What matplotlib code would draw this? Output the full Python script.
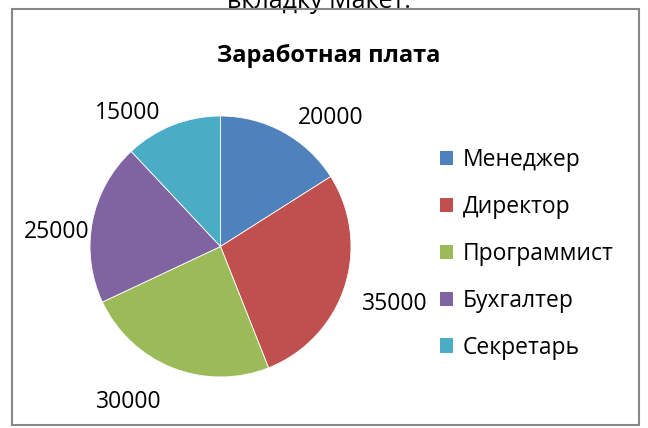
import numpy as np
import matplotlib
matplotlib.use('Agg')
import matplotlib.pyplot as plt
from matplotlib.patches import Patch, Rectangle

plt.rcParams['font.family'] = ['Open Sans', 'DejaVu Sans']

# data
positions = ['Менеджер', 'Директор', 'Программист', 'Бухгалтер', 'Секретарь']
salaries = [20000, 35000, 30000, 25000, 15000]
colors = ['#4F81BD', '#C0504D', '#9BBB59', '#8064A2', '#4BACC6']

# shift of each value label from the outer edge of its slice, px
label_shift = [(47, 17), (50, -14), (-44, -31), (-36, -7), (-45, 15)]

W, H = 648, 428
fig = plt.figure(figsize=(W / 100, H / 100), dpi=100)

# text of the page above the chart, cut by the frame
fig.text(319 / W, 1 - 8.5 / H, 'вкладку Макет.', ha='center', va='baseline',
         fontsize=18, color='black')

# chart frame
fig.patches.append(Rectangle((12 / W, 3 / H), 627 / W, 416 / H,
                             transform=fig.transFigure, fill=False,
                             edgecolor='#888888', linewidth=1.5, zorder=5))

fig.text(329 / W, 1 - 62 / H, 'Заработная плата', ha='center', va='baseline',
         fontsize=17, fontweight='bold')

# pie axes: centre (220.5, 246.5) px, radius 130.5 px
r = 130.5
cx, cy = 220.5, 246.5
ax = fig.add_axes([(cx - r) / W, (H - cy - r) / H, 2 * r / W, 2 * r / H])
wedges, _ = ax.pie(salaries, colors=colors, startangle=90, counterclock=False,
                   radius=1, wedgeprops=dict(edgecolor='white', linewidth=0.6))
ax.set_xlim(-1, 1)
ax.set_ylim(-1, 1)
ax.set_aspect('equal')
ax.axis('off')

# value labels outside each slice
for w, v, sh in zip(wedges, salaries, label_shift):
    ang = np.deg2rad((w.theta1 + w.theta2) / 2)
    ax.annotate(str(v), xy=(np.cos(ang), np.sin(ang)), xytext=sh,
                textcoords='offset pixels', ha='center', va='center_baseline',
                fontsize=16.5, annotation_clip=False)

handles = [Patch(facecolor=col, edgecolor='none') for col in colors]
fig.legend(handles, positions, loc='upper left',
           bbox_to_anchor=(440 / W, 1 - 148 / H), frameon=False,
           fontsize=16.5, borderpad=0, borderaxespad=0,
           handlelength=0.58, handleheight=0.58, handletextpad=0.4,
           labelspacing=1.0)

fig.savefig('out.png', dpi=100, facecolor='white')
